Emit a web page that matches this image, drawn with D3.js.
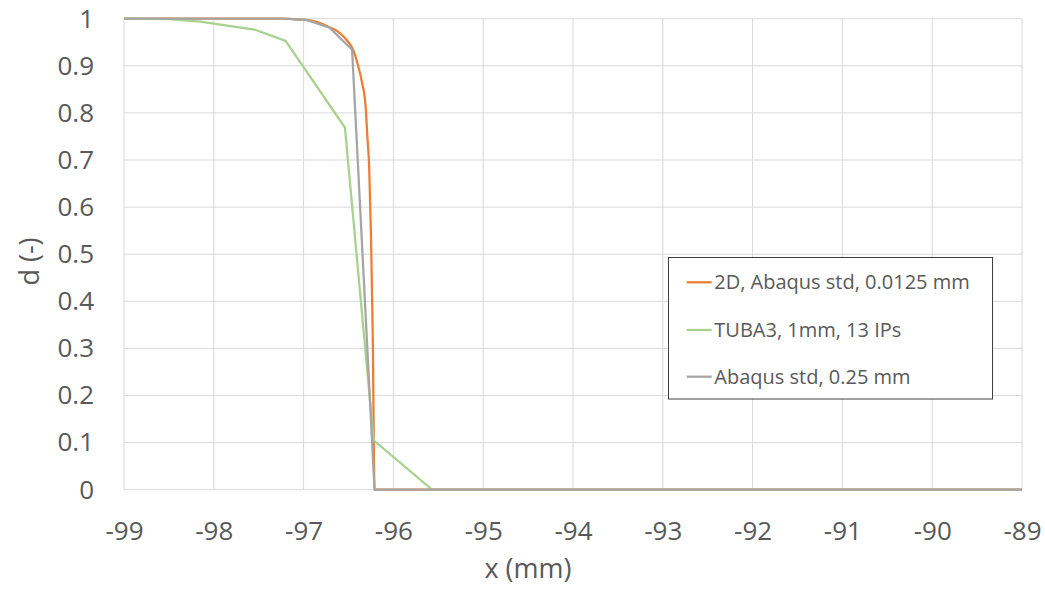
<!DOCTYPE html>
<html>
<head>
<meta charset="utf-8">
<script src="https://cdn.jsdelivr.net/npm/d3@7"></script>
<style>
  html, body { margin: 0; padding: 0; background: #fff; }
  svg { display: block; }
  text { font-family: "Open Sans", "Liberation Sans", sans-serif; fill: #595959; }
</style>
</head>
<body>
<svg id="chart" width="1045" height="590"></svg>
<script>
// ---- data ----
const xTicks = [-99, -98, -97, -96, -95, -94, -93, -92, -91, -90, -89];
const yTicks = [0, 0.1, 0.2, 0.3, 0.4, 0.5, 0.6, 0.7, 0.8, 0.9, 1];

const orangeX = [-99, -97.3, -97.15, -97.0, -96.85, -96.7, -96.6, -96.5, -96.45, -96.4, -96.35, -96.31, -96.29, -96.27, -96.25, -96.23, -96.21, -89];
const orangeY = [1, 1, 0.9995, 0.998, 0.993, 0.981, 0.97, 0.95, 0.935, 0.905, 0.865, 0.815, 0.75, 0.686, 0.544, 0.33, 0, 0];

const greenX = [-99, -98.5, -98.15, -97.53, -97.2, -96.54, -96.22, -95.57, -89];
const greenY = [1, 0.999, 0.994, 0.976, 0.953, 0.769, 0.105, 0, 0];

const grayX = [-99, -97.21, -96.96, -96.71, -96.46, -96.21, -89];
const grayY = [1, 1, 0.997, 0.981, 0.934, 0, 0];

const seriesNames = ["2D, Abaqus std, 0.0125 mm", "TUBA3, 1mm, 13 IPs", "Abaqus std, 0.25 mm"];
const seriesColors = ["#ED7D31", "#A9D18E", "#A5A5A5"];

// ---- layout ----
const svg = d3.select("#chart");
const pLeft = 124, pRight = 1022, pTop = 18.7, pBottom = 489.7;
const FONT = "'Open Sans', 'Liberation Sans', sans-serif";

const x = d3.scaleLinear().domain([-99, -89]).range([pLeft, pRight]);
const y = d3.scaleLinear().domain([0, 1]).range([pBottom, pTop]);

// gridlines
const grid = svg.append("g");
grid.selectAll("line.h").data(yTicks).enter().append("line")
  .attr("x1", pLeft).attr("x2", pRight)
  .attr("y1", d => y(d)).attr("y2", d => y(d))
  .attr("stroke", "#D9D9D9").attr("stroke-width", 1);
grid.selectAll("line.v").data(xTicks).enter().append("line")
  .attr("y1", pTop).attr("y2", pBottom)
  .attr("x1", d => x(d)).attr("x2", d => x(d))
  .attr("stroke", "#D9D9D9").attr("stroke-width", 1);

// axes (labels only)
const xAxis = d3.axisBottom(x).tickValues(xTicks).tickSize(0).tickPadding(32).tickFormat(d => String(d));
const gx = svg.append("g").attr("transform", `translate(0,${pBottom})`).call(xAxis);
gx.select(".domain").remove();
gx.selectAll("text").attr("font-size", 26).style("font-family", FONT).attr("fill", "#595959");

const yAxis = d3.axisLeft(y).tickValues(yTicks).tickSize(0).tickPadding(30)
  .tickFormat(d => d === 0 ? "0" : d === 1 ? "1" : d3.format(".1f")(d));
const gy = svg.append("g").attr("transform", `translate(${pLeft},0)`).call(yAxis);
gy.select(".domain").remove();
gy.selectAll("text").attr("font-size", 26).style("font-family", FONT).attr("fill", "#595959");

// axis titles
svg.append("text").attr("x", 528).attr("y", 578).attr("text-anchor", "middle")
  .attr("font-size", 27).text("x (mm)");
svg.append("text").attr("transform", "translate(39,261.5) rotate(-90)")
  .attr("text-anchor", "middle").attr("font-size", 27).text("d (-)");

// lines
const line = d3.line().x(d => x(d[0])).y(d => y(d[1]));
const orangeLine = d3.line().x(d => x(d[0])).y(d => y(d[1])).curve(d3.curveMonotoneX);
const zip = (a, b) => a.map((v, i) => [v, b[i]]);

svg.append("path").datum(zip(orangeX, orangeY)).attr("d", orangeLine)
  .attr("fill", "none").attr("stroke", seriesColors[0]).attr("stroke-width", 2.25);
svg.append("path").datum(zip(greenX, greenY)).attr("d", line)
  .attr("fill", "none").attr("stroke", seriesColors[1]).attr("stroke-width", 2.25);
svg.append("path").datum(zip(grayX, grayY)).attr("d", line)
  .attr("fill", "none").attr("stroke", seriesColors[2]).attr("stroke-width", 2.25);

// legend
const lg = svg.append("g");
lg.append("rect").attr("x", 668.5).attr("y", 257.5).attr("width", 324).attr("height", 141.5)
  .attr("fill", "#fff").attr("stroke", "#404040").attr("stroke-width", 1);
const rowsY = [282.3, 330, 376.7];
seriesNames.forEach((name, i) => {
  lg.append("line").attr("x1", 686.7).attr("x2", 711.7).attr("y1", rowsY[i]).attr("y2", rowsY[i])
    .attr("stroke", seriesColors[i]).attr("stroke-width", 2.25);
  lg.append("text").attr("x", 714.3).attr("y", rowsY[i]).attr("dy", "0.35em")
    .attr("font-size", 20).text(name);
});
</script>
</body>
</html>
